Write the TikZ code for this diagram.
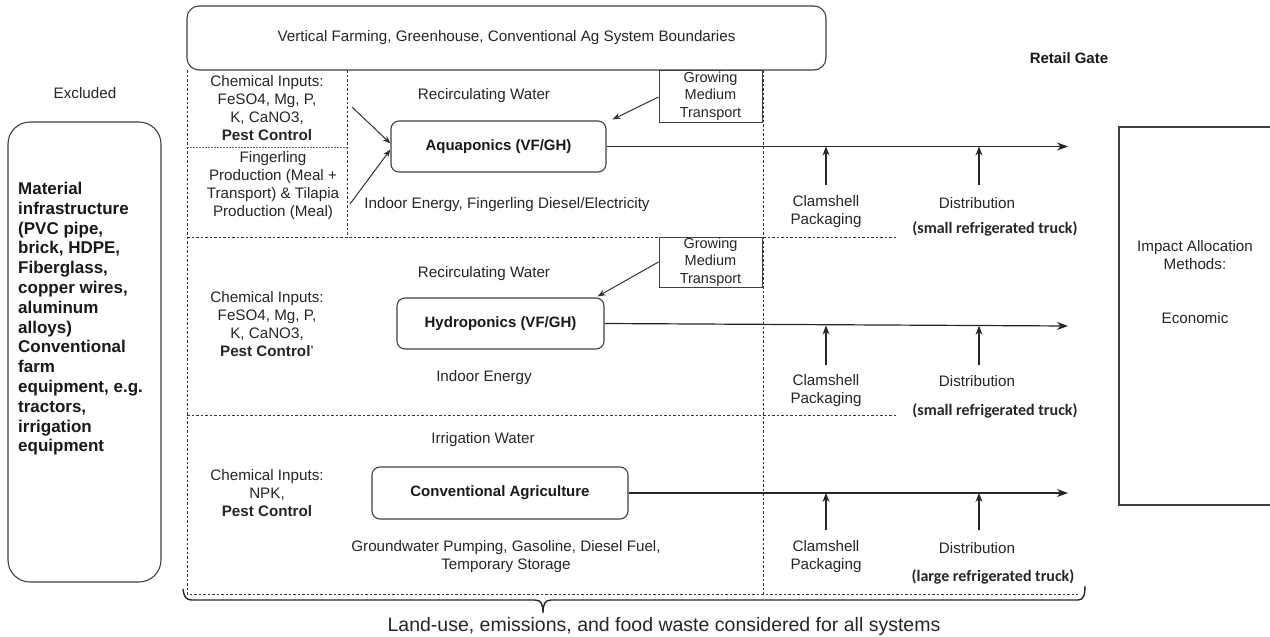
\documentclass[tikz,border=0pt]{standalone}
\usepackage{fontspec}
\setmainfont{Liberation Sans}
\newfontfamily\calib{Carlito}
\usetikzlibrary{arrows.meta}
\begin{document}
\begin{tikzpicture}[x=1pt,y=-1pt,
  txt/.style={font=\fontsize{15.2}{18}\selectfont, text=black!85, align=center, inner sep=0pt},
  btxt/.style={font=\fontsize{15}{18}\selectfont\bfseries, text=black!90, align=center, inner sep=0pt},
  trk/.style={font=\fontsize{16}{18}\selectfont\calib\bfseries, text=black!85, inner sep=0pt},
  rbox/.style={draw=black!75, line width=1.1pt, rounded corners=8pt},
  sbox/.style={draw=black!75, line width=1pt},
  dline/.style={draw=black!80, line width=0.9pt, dash pattern=on 2.5pt off 2pt},
  dotline/.style={draw=black!60, line width=0.8pt, dash pattern=on 1.5pt off 1.5pt},
  arr/.style={-{Stealth[length=11pt,width=8pt]}, line width=1.2pt, draw=black!85},
  uarr/.style={-{Stealth[length=9pt,width=7pt]}, line width=1.2pt, draw=black!85},
  sarr/.style={-{Stealth[length=8pt,width=6pt]}, line width=1pt, draw=black!80}]
\useasboundingbox (0,0) rectangle (1270,637);
\fill[white] (0,0) rectangle (1270,637);

% dashed system boundaries
\draw[dline] (187,70) -- (187,594) -- (1078,594);
\draw[dline] (187,237) -- (897,237);
\draw[dline] (187,415) -- (897,415);
\draw[dline] (763,70) -- (763,594);
\draw[dline] (347,70) -- (347,237);
\draw[dotline] (187,147) -- (347,147);

% top box
\node[rbox, rounded corners=12pt, minimum width=639pt, minimum height=64pt, txt, fill=white] (top) at (506.5,38) {Vertical Farming, Greenhouse, Conventional Ag System Boundaries};
\node[btxt] (retail) at (1069,58) {Retail Gate};

% excluded
\node[txt] (excllab) at (85,93) {Excluded};
\node[rbox, rounded corners=22pt, minimum width=153pt, minimum height=460pt] (excl) at (84.5,352) {};
\node[anchor=north west, align=left, font=\fontsize{17}{19.8}\selectfont\bfseries, text=black!90, inner sep=0pt] (excltxt) at (18,182) {Material\\infrastructure\\(PVC pipe,\\brick, HDPE,\\Fiberglass,\\copper wires,\\aluminum\\alloys)\\Conventional\\farm\\equipment, e.g.\\tractors,\\irrigation\\equipment};

% impact allocation
\node[sbox, line width=1.1pt, minimum width=160pt, minimum height=378pt] (impact) at (1199,316) {};
\node[txt] (impt) at (1195,255) {Impact Allocation\\Methods:};
\node[txt] (econ) at (1195,318) {Economic};

% ---------- Aquaponics ----------
\node[txt] (chem1) at (267,108) {Chemical Inputs:\\FeSO4, Mg, P,\\K, CaNO3,\\\textbf{Pest Control}};
\node[txt] (fing1) at (273,186) {Fingerling\\Production (Meal +\\Transport) \& Tilapia\\Production (Meal)};
\node[txt] (rw1) at (484,96) {Recirculating Water};
\node[rbox, btxt, minimum width=215pt, minimum height=51pt] (aqua) at (498.5,146.5) {Aquaponics (VF/GH)};
\node[txt] (ie1) at (507,205) {Indoor Energy, Fingerling Diesel/Electricity};
\node[sbox, txt, font=\fontsize{14.5}{17.5}\selectfont, minimum width=103pt, minimum height=52pt] (gm1) at (710.5,96) {Growing\\Medium\\Transport};
\node[txt] (clam1) at (826,212) {Clamshell\\Packaging};
\node[txt] (dist1) at (977,203) {Distribution};
\node[trk] (truck1) at (995,229) {(small refrigerated truck)};

\coordinate (end1) at (1068,146.5);
\coordinate (ch1) at (352,107);
\coordinate (fg1) at (350,204);
\coordinate (cs1) at (826,185);
\coordinate (ds1) at (979,185);
\draw[arr] (aqua.east) -- (end1);
\draw[uarr] (cs1) -- (cs1 |- end1);
\draw[uarr] (ds1) -- (ds1 |- end1);
\draw[sarr] (ch1) -- ([yshift=3pt]aqua.west);
\draw[sarr] (fg1) -- ([yshift=-3pt]aqua.west);
\draw[sarr] ([yshift=-1pt]gm1.west) -- ([xshift=6pt,yshift=1pt]aqua.north east);

% ---------- Hydroponics ----------
\node[sbox, txt, font=\fontsize{14.5}{17.5}\selectfont, minimum width=103pt, minimum height=50pt, fill=white] (gm2) at (710.5,262) {Growing\\Medium\\Transport};
\node[txt] (rw2) at (484,274) {Recirculating Water};
\node[txt] (chem2) at (267,324.5) {Chemical Inputs:\\FeSO4, Mg, P,\\K, CaNO3,\\\textbf{Pest Control}'};
\node[rbox, btxt, minimum width=207pt, minimum height=51pt] (hydro) at (500.5,323.5) {Hydroponics (VF/GH)};
\node[txt] (ie2) at (484,378) {Indoor Energy};
\node[txt] (clam2) at (826,391) {Clamshell\\Packaging};
\node[txt] (dist2) at (977,381) {Distribution};
\node[trk] (truck2) at (995,411) {(small refrigerated truck)};

\coordinate (end2) at (1068,326);
\coordinate (cs2) at (826,365);
\coordinate (ds2) at (979,365);
\draw[arr] (hydro.east) -- (end2);
\draw[uarr] (cs2) -- (826,325.5);
\draw[uarr] (ds2) -- (979,325.8);
\draw[sarr] (gm2.west) -- ([xshift=-7pt,yshift=1pt]hydro.north east);

% ---------- Conventional ----------
\node[txt] (iw) at (483,440) {Irrigation Water};
\node[txt] (chem3) at (267,493.5) {Chemical Inputs:\\NPK,\\\textbf{Pest Control}};
\node[rbox, btxt, minimum width=256pt, minimum height=52pt] (conv) at (500,493) {Conventional Agriculture};
\node[txt] (gw) at (506,557) {Groundwater Pumping, Gasoline, Diesel Fuel,\\Temporary Storage};
\node[txt] (clam3) at (826,557) {Clamshell\\Packaging};
\node[txt] (dist3) at (977,548) {Distribution};
\node[trk] (truck3) at (993,577) {(large refrigerated truck)};

\coordinate (end3) at (1068,493);
\coordinate (cs3) at (826,530);
\coordinate (ds3) at (979,530);
\draw[arr] (conv.east) -- (end3);
\draw[uarr] (cs3) -- (cs3 |- end3);
\draw[uarr] (ds3) -- (ds3 |- end3);

% brace
\draw[line width=1.4pt, draw=black!85] (183,589) .. controls (184,597) and (186,600) .. (192,600) -- (535,600) .. controls (541,600) and (543,604) .. (543,613) .. controls (543,604) and (545,600) .. (551,600) -- (1078,600) .. controls (1083,600) and (1085,596) .. (1085,586);
\node[font=\fontsize{19.5}{22}\selectfont, text=black!85, inner sep=0pt] (foot) at (664,626) {Land-use, emissions, and food waste considered for all systems};
\end{tikzpicture}
\end{document}
